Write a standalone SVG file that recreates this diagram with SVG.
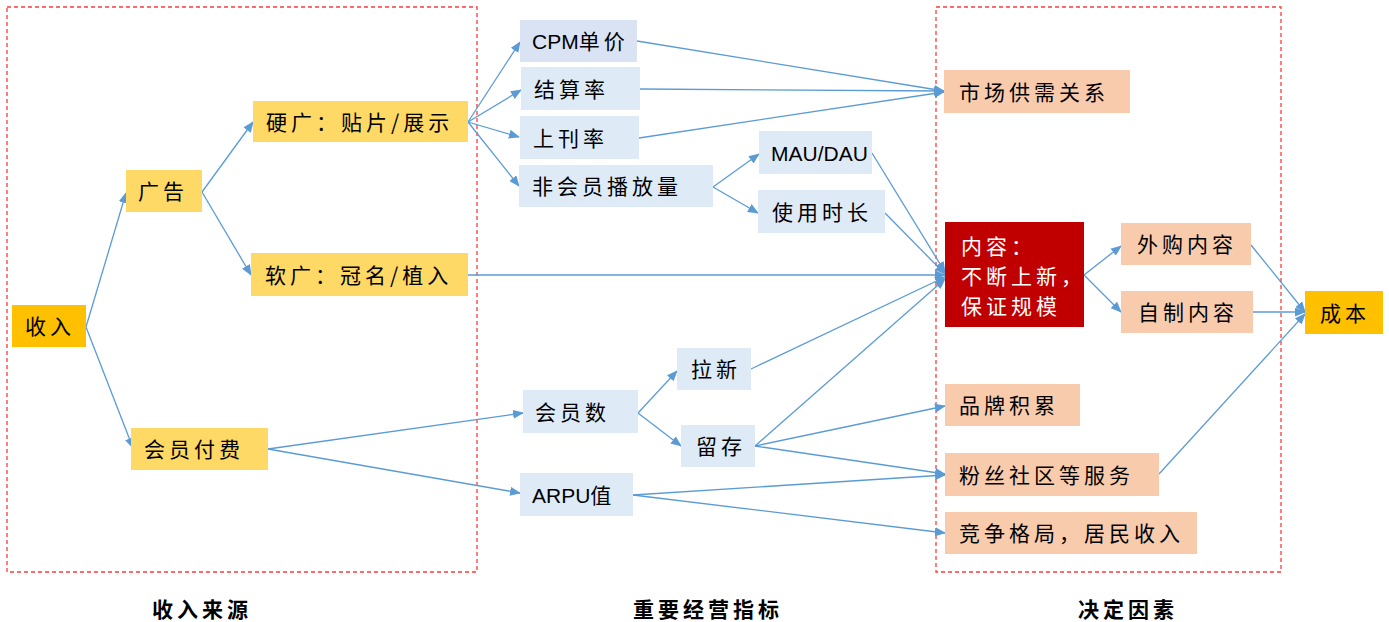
<svg xmlns="http://www.w3.org/2000/svg" width="1389" height="622" viewBox="0 0 1389 622">
<style>
.t{font-family:"Noto Sans CJK SC","Liberation Sans",sans-serif;font-size:21px;letter-spacing:4px;fill:#000}
.l{font-family:"Liberation Sans","Noto Sans CJK SC",sans-serif;letter-spacing:0}
.w{fill:#fff}
.h{font-family:"Noto Sans CJK SC",sans-serif;font-size:21px;font-weight:bold;letter-spacing:4px;fill:#000}
.gold{fill:#FFC000}
.yel{fill:#FFD966}
.blu{fill:#DEEBF7}
.pea{fill:#F8CBAD}
.red{fill:#C00000}
.frame{fill:none;stroke:#FF3B3B;stroke-width:1.3;stroke-dasharray:4 3}
#edges line{stroke:#5B9BD5;stroke-width:1.3;marker-end:url(#ah)}
</style>
<defs>
<marker id="ah" markerUnits="userSpaceOnUse" markerWidth="11" markerHeight="9" refX="10" refY="4.5" orient="auto">
<path d="M0,0 L11,4.5 L0,9 z" fill="#5B9BD5"/>
</marker>
</defs>
<rect width="1389" height="622" fill="#fff"/>
<rect class="frame" x="7" y="7" width="470" height="565"/>
<rect class="frame" x="936" y="7" width="345" height="565"/>

<g id="edges">
<line x1="86" y1="327" x2="126" y2="193"/>
<line x1="86" y1="327" x2="133" y2="448"/>
<line x1="202" y1="192" x2="253" y2="122"/>
<line x1="202" y1="192" x2="251" y2="275"/>
<line x1="468" y1="122" x2="520" y2="42"/>
<line x1="468" y1="122" x2="521" y2="90"/>
<line x1="468" y1="122" x2="519" y2="137"/>
<line x1="468" y1="122" x2="519" y2="186"/>
<line x1="468" y1="275" x2="945" y2="275"/>
<line x1="637" y1="41" x2="944" y2="91"/>
<line x1="640" y1="89" x2="944" y2="91"/>
<line x1="639" y1="138" x2="944" y2="92"/>
<line x1="713" y1="187" x2="759" y2="154"/>
<line x1="713" y1="187" x2="758" y2="213"/>
<line x1="872" y1="153" x2="945" y2="272"/>
<line x1="885" y1="213" x2="945" y2="274"/>
<line x1="751" y1="369" x2="945" y2="277"/>
<line x1="755" y1="446" x2="945" y2="279"/>
<line x1="755" y1="446" x2="945" y2="406"/>
<line x1="755" y1="446" x2="945" y2="474"/>
<line x1="633" y1="495" x2="945" y2="475"/>
<line x1="633" y1="495" x2="945" y2="533"/>
<line x1="268" y1="449" x2="523" y2="413"/>
<line x1="268" y1="449" x2="520" y2="493"/>
<line x1="638" y1="413" x2="677" y2="371"/>
<line x1="638" y1="413" x2="681" y2="446"/>
<line x1="1084" y1="275" x2="1121" y2="246"/>
<line x1="1084" y1="275" x2="1121" y2="312"/>
<line x1="1251" y1="245" x2="1305" y2="312"/>
<line x1="1253" y1="312" x2="1305" y2="312"/>
<line x1="1159" y1="474" x2="1305" y2="314"/>
</g>

<g id="n-shouru"><rect class="gold" x="12" y="305" width="74" height="42"/><text class="t" x="25" y="334">收入</text></g>
<g id="n-guanggao"><rect class="yel" x="126" y="170" width="76" height="42"/><text class="t" x="138" y="199">广告</text></g>
<g id="n-yingguang"><rect class="yel" x="253" y="101" width="215" height="41"/><text class="t" x="266" y="130">硬广：贴片/展示</text></g>
<g id="n-ruanguang"><rect class="yel" x="251" y="253" width="217" height="43"/><text class="t" x="265" y="283">软广：冠名/植入</text></g>
<g id="n-huiyuanfufei"><rect class="yel" x="131" y="428" width="137" height="42"/><text class="t" x="144" y="457">会员付费</text></g>

<g id="n-cpm"><rect x="520" y="20" width="117" height="42" fill="#DAE3F3"/><text class="t" x="532" y="49"><tspan class="l">CPM</tspan>单价</text></g>
<g id="n-jiesuan"><rect class="blu" x="521" y="67" width="119" height="43"/><text class="t" x="534" y="97">结算率</text></g>
<g id="n-shangkan"><rect class="blu" x="520" y="116" width="119" height="43"/><text class="t" x="533" y="146">上刊率</text></g>
<g id="n-feihuiyuan"><rect class="blu" x="519" y="165" width="194" height="42"/><text class="t" x="532" y="194">非会员播放量</text></g>
<g id="n-mau"><rect class="blu" x="759" y="131" width="113" height="43"/><text class="t l" x="771" y="161" font-size="20">MAU/DAU</text></g>
<g id="n-shiyong"><rect class="blu" x="758" y="190" width="127" height="43"/><text class="t" x="772" y="220">使用时长</text></g>
<g id="n-huiyuanshu"><rect class="blu" x="523" y="390" width="115" height="43"/><text class="t" x="535" y="420">会员数</text></g>
<g id="n-laxin"><rect class="blu" x="677" y="348" width="74" height="42"/><text class="t" x="691" y="377">拉新</text></g>
<g id="n-liucun"><rect class="blu" x="681" y="425" width="74" height="42"/><text class="t" x="696" y="454">留存</text></g>
<g id="n-arpu"><rect class="blu" x="520" y="473" width="113" height="43"/><text class="t" x="532" y="503"><tspan class="l">ARPU</tspan>值</text></g>

<g id="n-shichang"><rect class="pea" x="944" y="70" width="186" height="43"/><text class="t" x="959" y="100">市场供需关系</text></g>
<g id="n-neirong"><rect class="red" x="945" y="222" width="139" height="105"/>
<text class="t w" x="961" y="254">内容：</text>
<text class="t w" x="961" y="284">不断上新，</text>
<text class="t w" x="961" y="314">保证规模</text></g>
<g id="n-waigou"><rect class="pea" x="1121" y="223" width="130" height="42"/><text class="t" x="1137" y="252">外购内容</text></g>
<g id="n-zizhi"><rect class="pea" x="1121" y="291" width="132" height="42"/><text class="t" x="1138" y="320">自制内容</text></g>
<g id="n-chengben"><rect class="gold" x="1305" y="291" width="78" height="43"/><text class="t" x="1320" y="321">成本</text></g>
<g id="n-pinpai"><rect class="pea" x="945" y="384" width="135" height="42"/><text class="t" x="959" y="413">品牌积累</text></g>
<g id="n-fensi"><rect class="pea" x="945" y="453" width="214" height="43"/><text class="t" x="959" y="483">粉丝社区等服务</text></g>
<g id="n-jingzheng"><rect class="pea" x="945" y="512" width="252" height="42"/><text class="t" x="959" y="541">竞争格局，居民收入</text></g>

<g id="labels">
<text class="h" x="152" y="617">收入来源</text>
<text class="h" x="633" y="617">重要经营指标</text>
<text class="h" x="1078" y="617">决定因素</text>
</g>
</svg>
